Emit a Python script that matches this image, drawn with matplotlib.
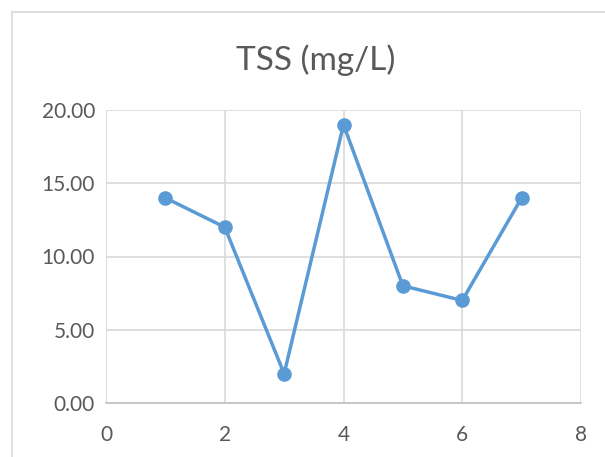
import matplotlib.pyplot as plt
from matplotlib.lines import Line2D

plt.rcParams['font.family'] = ['Lato', 'DejaVu Sans']

x = [1, 2, 3, 4, 5, 6, 7]
tss = [14, 12, 2, 19, 8, 7, 14]
title = "TSS (mg/L)"

fig = plt.figure(figsize=(6.05, 4.57), dpi=100)
ax = fig.add_axes([106/605, 1 - 403/457, (581-106)/605, (403-110)/457])

ax.plot(x, tss, color='#5b9bd5', lw=2.5, marker='o', ms=9.5, zorder=3)

ax.set_xlim(0, 8)
ax.set_ylim(0, 20)
ax.set_xticks([0, 2, 4, 6, 8])
ax.set_yticks([0, 5, 10, 15, 20])
ax.set_yticklabels([f"{v:.2f}" for v in [0, 5, 10, 15, 20]])
ax.grid(True, color='#d9d9d9', lw=1.2)
ax.set_axisbelow(True)
for s in ['top', 'right', 'left']:
    ax.spines[s].set_visible(False)
ax.spines['bottom'].set_color('#bfbfbf')
ax.spines['bottom'].set_linewidth(1.2)
ax.tick_params(length=0, labelsize=15, colors='#595959')
ax.tick_params(axis='y', pad=8)
ax.tick_params(axis='x', pad=16)

fig.text(316/605, 1 - 60/457, title, ha='center', va='center', fontsize=24, color='#595959')

# chart area border
fig.add_artist(Line2D([12/605, 1], [1 - 12/457, 1 - 12/457], color='#d9d9d9', lw=1.2))
fig.add_artist(Line2D([12/605, 12/605], [0, 1 - 12/457], color='#d9d9d9', lw=1.2))

fig.savefig('out.png', dpi=100)
